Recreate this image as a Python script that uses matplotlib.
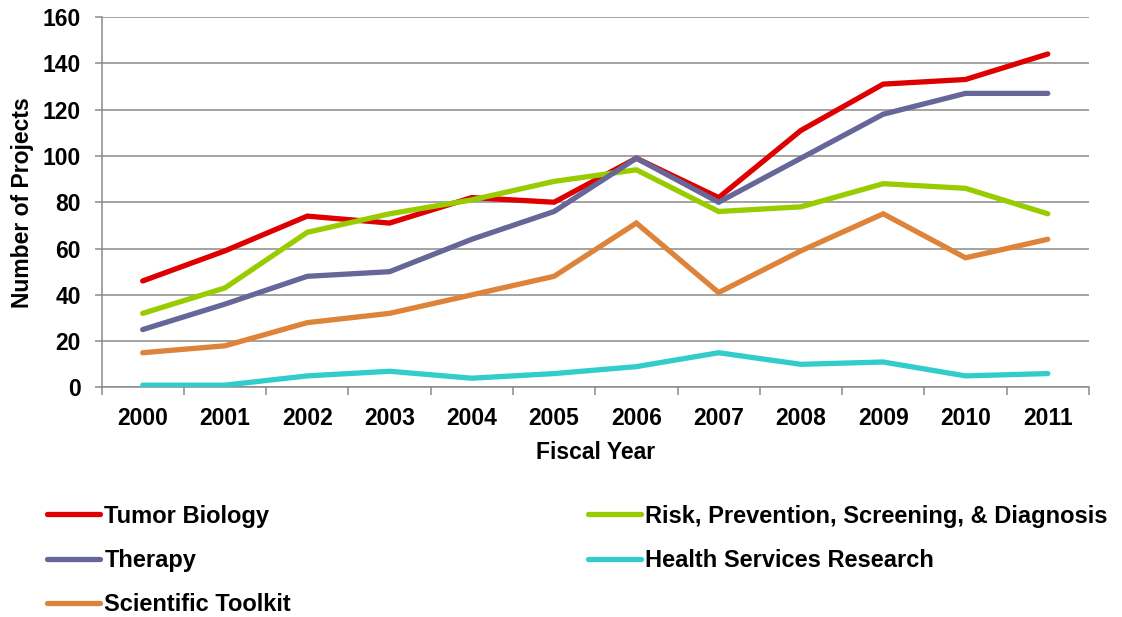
import matplotlib.pyplot as plt
import numpy as np

plt.rcParams['font.family'] = ['Liberation Sans', 'DejaVu Sans']
plt.rcParams['font.weight'] = 'bold'

years = ['2000', '2001', '2002', '2003', '2004', '2005',
         '2006', '2007', '2008', '2009', '2010', '2011']

tumor_biology = [46, 59, 74, 71, 82, 80, 99, 82, 111, 131, 133, 144]
risk_prevention = [32, 43, 67, 75, 81, 89, 94, 76, 78, 88, 86, 75]
therapy = [25, 36, 48, 50, 64, 76, 99, 80, 99, 118, 127, 127]
health_services = [1, 1, 5, 7, 4, 6, 9, 15, 10, 11, 5, 6]
scientific_toolkit = [15, 18, 28, 32, 40, 48, 71, 41, 59, 75, 56, 64]

series = [
    ('Tumor Biology', tumor_biology, '#DE0000'),
    ('Risk, Prevention, Screening, & Diagnosis', risk_prevention, '#99CC00'),
    ('Therapy', therapy, '#666699'),
    ('Health Services Research', health_services, '#33CCCC'),
    ('Scientific Toolkit', scientific_toolkit, '#DD833A'),
]

fig = plt.figure(figsize=(11.22, 6.17), dpi=100)
ax = fig.add_axes([0.0905, 0.372, 0.880, 0.6005])

x = np.arange(len(years))
lines = {}
for name, vals, col in series:
    ln, = ax.plot(x, vals, color=col, lw=3.8, solid_capstyle='round',
                  solid_joinstyle='miter', label=name, zorder=3)
    lines[name] = ln

ax.set_xlim(-0.5, len(years) - 0.5)
ax.set_ylim(0, 160)
ax.set_yticks(np.arange(0, 161, 20))
ax.yaxis.grid(True, color='#8A8A8A', lw=1.1)
ax.set_axisbelow(True)

# category labels centred, tick marks between categories
ax.set_xticks(x)
ax.set_xticklabels(years)
ax.set_xticks(np.arange(-0.5, len(years), 1), minor=True)
ax.tick_params(axis='x', which='major', length=0, pad=14, labelsize=16.5)
ax.tick_params(axis='x', which='minor', length=6, width=1.1, color='#8A8A8A',
               direction='out')
ax.tick_params(axis='y', length=5, width=1.1, color='#8A8A8A', labelsize=16.5,
               pad=10)

for s in ['top', 'right']:
    ax.spines[s].set_visible(False)
for s in ['left', 'bottom']:
    ax.spines[s].set_color('#8A8A8A')
    ax.spines[s].set_linewidth(1.1)

ax.set_xlabel('Fiscal Year', fontsize=16.5, fontweight='bold', labelpad=8)
ax.set_ylabel('Number of Projects', fontsize=16.5, fontweight='bold',
              labelpad=6)

leg_kw = dict(frameon=False, fontsize=17, handlelength=2.25,
              handletextpad=0.17, labelspacing=0.9, borderaxespad=0,
              borderpad=0)
left_names = ['Tumor Biology', 'Therapy', 'Scientific Toolkit']
right_names = ['Risk, Prevention, Screening, & Diagnosis',
               'Health Services Research']
fig.legend([lines[n] for n in left_names], left_names,
           loc='upper left', bbox_to_anchor=(0.042, 0.182), **leg_kw)
fig.legend([lines[n] for n in right_names], right_names,
           loc='upper left', bbox_to_anchor=(0.524, 0.182), **leg_kw)

fig.savefig('out.png', dpi=100)
